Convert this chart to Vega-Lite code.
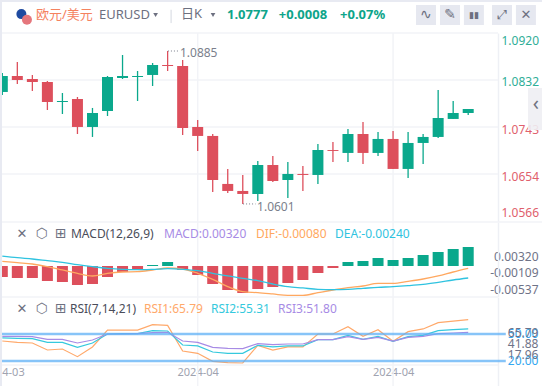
{"$schema":"https://vega.github.io/schema/vega-lite/v6.json","padding":{"left":0,"top":2,"right":0,"bottom":0},"background":"#e8eaf2","spacing":0,"bounds":"flush",
"config":{"view":{"stroke":null,"fill":"#ffffff"},"scale":{"continuousPadding":0},"font":"Noto Sans, Noto Sans CJK SC","concat":{"spacing":0},"text":{"font":"Noto Sans, Noto Sans CJK SC","fontSize":12,"align":"left","baseline":"middle"},"axis":{"ticks":false,"grid":false,"title":null,"domainColor":"#eef0f5","domainWidth":1.5,"labelFontSize":12,"labelFont":"Noto Sans","labelColor":"#6f7387","labelOverlap":false,"labelBound":false,"labelFlush":false}},
"datasets":{"bars":[
{"i":0,"o":1.08083,"c":1.08386,"h":1.08443,"l":1.08026,"macd":-0.00185,"dif":0.00079,"dea":0.00168,"rsi1":42.2,"rsi2":45.6,"rsi3":47.4},
{"i":1,"o":1.08386,"c":1.0831,"h":1.08651,"l":1.08234,"macd":-0.00202,"dif":0.00056,"dea":0.0014,"rsi1":40.7,"rsi2":45.2,"rsi3":47.4},
{"i":2,"o":1.08329,"c":1.08272,"h":1.08405,"l":1.08102,"macd":-0.00202,"dif":0.00034,"dea":0.00118,"rsi1":40.0,"rsi2":44.8,"rsi3":47.0},
{"i":3,"o":1.08272,"c":1.07893,"h":1.08291,"l":1.07742,"macd":-0.00253,"dif":-0.00011,"dea":0.0009,"rsi1":32.2,"rsi2":40.7,"rsi3":44.1},
{"i":4,"o":1.07893,"c":1.07912,"h":1.08064,"l":1.07666,"macd":-0.00269,"dif":-0.00067,"dea":0.00062,"rsi1":33.3,"rsi2":40.7,"rsi3":44.1},
{"i":5,"o":1.0795,"c":1.0742,"h":1.07988,"l":1.07287,"macd":-0.0032,"dif":-0.00123,"dea":0.00022,"rsi1":24.8,"rsi2":35.2,"rsi3":40.0},
{"i":6,"o":1.0742,"c":1.07685,"h":1.0778,"l":1.07231,"macd":-0.00303,"dif":-0.00168,"dea":-0.00011,"rsi1":35.6,"rsi2":40.0,"rsi3":43.3},
{"i":7,"o":1.07723,"c":1.08367,"h":1.08386,"l":1.07628,"macd":-0.00185,"dif":-0.00123,"dea":-0.00039,"rsi1":54.4,"rsi2":50.0,"rsi3":50.0},
{"i":8,"o":1.08348,"c":1.08386,"h":1.08783,"l":1.08329,"macd":-0.00101,"dif":-0.00101,"dea":-0.00056,"rsi1":54.4,"rsi2":50.4,"rsi3":50.0},
{"i":9,"o":1.08367,"c":1.08386,"h":1.0848,"l":1.07912,"macd":-0.00067,"dif":-0.00095,"dea":-0.00062,"rsi1":54.4,"rsi2":50.4,"rsi3":50.4},
{"i":10,"o":1.08405,"c":1.08594,"h":1.08632,"l":1.08196,"macd":0.00017,"dif":-0.00067,"dea":-0.00056,"rsi1":60.4,"rsi2":53.7,"rsi3":51.5},
{"i":11,"o":1.08594,"c":1.08575,"h":1.08859,"l":1.0848,"macd":0.00067,"dif":-0.00034,"dea":-0.00045,"rsi1":59.6,"rsi2":53.3,"rsi3":51.9},
{"i":12,"o":1.08575,"c":1.07401,"h":1.08689,"l":1.07269,"macd":-0.00067,"dif":-0.00051,"dea":-0.00056,"rsi1":31.1,"rsi2":37.8,"rsi3":42.2},
{"i":13,"o":1.0742,"c":1.0725,"h":1.07553,"l":1.06966,"macd":-0.00152,"dif":-0.00123,"dea":-0.00079,"rsi1":28.5,"rsi2":36.7,"rsi3":40.7},
{"i":14,"o":1.0725,"c":1.06416,"h":1.07287,"l":1.06189,"macd":-0.00303,"dif":-0.00225,"dea":-0.00123,"rsi1":19.6,"rsi2":30.0,"rsi3":35.2},
{"i":15,"o":1.06341,"c":1.06208,"h":1.06625,"l":1.0617,"macd":-0.00404,"dif":-0.00348,"dea":-0.00168,"rsi1":18.1,"rsi2":28.5,"rsi3":34.1},
{"i":16,"o":1.06208,"c":1.06151,"h":1.06511,"l":1.05962,"macd":-0.00455,"dif":-0.00432,"dea":-0.00208,"rsi1":17.8,"rsi2":28.5,"rsi3":33.7},
{"i":17,"o":1.06151,"c":1.067,"h":1.06776,"l":1.06019,"macd":-0.00387,"dif":-0.00449,"dea":-0.00247,"rsi1":37.4,"rsi2":37.4,"rsi3":39.3},
{"i":18,"o":1.067,"c":1.06397,"h":1.06871,"l":1.06379,"macd":-0.00354,"dif":-0.00471,"dea":-0.00303,"rsi1":32.2,"rsi2":35.6,"rsi3":38.1},
{"i":19,"o":1.06416,"c":1.0653,"h":1.06757,"l":1.06076,"macd":-0.00286,"dif":-0.00494,"dea":-0.00348,"rsi1":35.6,"rsi2":36.7,"rsi3":38.9},
{"i":20,"o":1.0653,"c":1.06511,"h":1.06682,"l":1.06208,"macd":-0.00236,"dif":-0.00494,"dea":-0.0037,"rsi1":35.6,"rsi2":36.7,"rsi3":38.9},
{"i":21,"o":1.06511,"c":1.06984,"h":1.07098,"l":1.06341,"macd":-0.00118,"dif":-0.00449,"dea":-0.00393,"rsi1":50.0,"rsi2":43.7,"rsi3":43.7},
{"i":22,"o":1.06984,"c":1.06966,"h":1.07136,"l":1.06757,"macd":-0.00034,"dif":-0.00404,"dea":-0.00399,"rsi1":50.0,"rsi2":43.7,"rsi3":43.7},
{"i":23,"o":1.06928,"c":1.07287,"h":1.07382,"l":1.06757,"macd":0.00067,"dif":-0.00365,"dea":-0.00393,"rsi1":58.1,"rsi2":48.5,"rsi3":47.0},
{"i":24,"o":1.07287,"c":1.06928,"h":1.07515,"l":1.06719,"macd":0.00084,"dif":-0.00337,"dea":-0.00376,"rsi1":47.4,"rsi2":44.1,"rsi3":44.1},
{"i":25,"o":1.06928,"c":1.07193,"h":1.07325,"l":1.06871,"macd":0.00135,"dif":-0.00292,"dea":-0.00359,"rsi1":54.8,"rsi2":47.4,"rsi3":46.3},
{"i":26,"o":1.07193,"c":1.06625,"h":1.07344,"l":1.06625,"macd":0.00101,"dif":-0.00292,"dea":-0.00348,"rsi1":41.9,"rsi2":41.9,"rsi3":42.2},
{"i":27,"o":1.06625,"c":1.07117,"h":1.07325,"l":1.06454,"macd":0.00135,"dif":-0.00258,"dea":-0.00331,"rsi1":52.6,"rsi2":47.0,"rsi3":46.3},
{"i":28,"o":1.07117,"c":1.07231,"h":1.07287,"l":1.06719,"macd":0.00185,"dif":-0.00219,"dea":-0.00309,"rsi1":55.6,"rsi2":48.5,"rsi3":47.4},
{"i":29,"o":1.07231,"c":1.0759,"h":1.08121,"l":1.07212,"macd":0.00236,"dif":-0.00168,"dea":-0.00275,"rsi1":62.6,"rsi2":53.7,"rsi3":50.4},
{"i":30,"o":1.07572,"c":1.07685,"h":1.07912,"l":1.07572,"macd":0.00286,"dif":-0.00101,"dea":-0.00236,"rsi1":64.4,"rsi2":54.8,"rsi3":51.1},
{"i":31,"o":1.07685,"c":1.07761,"h":1.07761,"l":1.07647,"macd":0.0032,"dif":-0.00039,"dea":-0.00202,"rsi1":65.9,"rsi2":55.6,"rsi3":51.9}
],"months":[{"i":13},{"i":26}]},
"vconcat":[
{"width":540,"height":31,"layer":[
{"data":{"values":[{"label":"欧元/美元"}]},"mark":{"type":"text","color":"#f5825f","fontSize":13},"encoding":{"x":{"datum":2.24,"type":"quantitative","axis":null,"scale":{"domain":[-0.02,35.91],"nice":false,"zero":false}},"y":{"datum":0.58,"type":"quantitative","axis":null,"scale":{"domain":[0,1],"nice":false,"zero":false}},"text":{"field":"label"}}},
{"data":{"values":[{"label":"EURUSD"}]},"mark":{"type":"text","color":"#6d7080","fontSize":13},"encoding":{"x":{"datum":6.43,"type":"quantitative","axis":null},"y":{"datum":0.58,"type":"quantitative","axis":null},"text":{"field":"label"}}},
{"data":{"values":[{"label":"日K"}]},"mark":{"type":"text","color":"#6d7080","fontSize":13},"encoding":{"x":{"datum":11.89,"type":"quantitative","axis":null},"y":{"datum":0.6,"type":"quantitative","axis":null},"text":{"field":"label"}}},
{"data":{"values":[{"label":"1.0777"}]},"mark":{"type":"text","color":"#0ea58a","fontSize":13,"fontWeight":"bold"},"encoding":{"x":{"datum":14.95,"type":"quantitative","axis":null},"y":{"datum":0.58,"type":"quantitative","axis":null},"text":{"field":"label"}}},
{"data":{"values":[{"label":"+0.0008"}]},"mark":{"type":"text","color":"#0ea58a","fontSize":13,"fontWeight":"bold"},"encoding":{"x":{"datum":18.4,"type":"quantitative","axis":null},"y":{"datum":0.58,"type":"quantitative","axis":null},"text":{"field":"label"}}},
{"data":{"values":[{"label":"+0.07%"}]},"mark":{"type":"text","color":"#0ea58a","fontSize":13,"fontWeight":"bold"},"encoding":{"x":{"datum":22.47,"type":"quantitative","axis":null},"y":{"datum":0.58,"type":"quantitative","axis":null},"text":{"field":"label"}}},
{"mark":{"type":"point","filled":true,"opacity":1,"shape":"circle","size":100,"color":"#1f4aa0"},"data":{"values":[{"flag":"EU"}]},"encoding":{"x":{"datum":1.27,"type":"quantitative","axis":null},"y":{"datum":0.61,"type":"quantitative","axis":null}}},
{"mark":{"type":"point","filled":true,"opacity":1,"shape":"circle","size":100,"color":"#e5767c"},"data":{"values":[{"flag":"US"}]},"encoding":{"x":{"datum":1.64,"type":"quantitative","axis":null},"y":{"datum":0.43,"type":"quantitative","axis":null}}},
{"mark":{"type":"point","filled":true,"opacity":1,"shape":"triangle-down","size":22,"color":"#6d7080"},"data":{"values":[{"c":1}]},"encoding":{"x":{"datum":10.2,"type":"quantitative","axis":null},"y":{"datum":0.58,"type":"quantitative","axis":null}}},
{"mark":{"type":"point","filled":true,"opacity":1,"shape":"triangle-down","size":22,"color":"#6d7080"},"data":{"values":[{"c":2}]},"encoding":{"x":{"datum":14.02,"type":"quantitative","axis":null},"y":{"datum":0.58,"type":"quantitative","axis":null}}},
{"mark":{"type":"rule","color":"#d5d8e0","strokeWidth":1},"data":{"values":[{"c":3}]},"encoding":{"x":{"datum":11.23,"type":"quantitative","axis":null},"y":{"datum":0.75,"type":"quantitative","axis":null},"y2":{"datum":0.32}}},
{"mark":{"type":"point","filled":true,"opacity":1,"shape":"square","size":400,"color":"#e6e8f0"},"data":{"values":[{"c":4}]},"encoding":{"x":{"datum":28.19,"type":"quantitative","axis":null},"y":{"datum":0.58,"type":"quantitative","axis":null}}},
{"mark":{"type":"point","filled":true,"opacity":1,"shape":"square","size":400,"color":"#e6e8f0"},"data":{"values":[{"c":5}]},"encoding":{"x":{"datum":29.79,"type":"quantitative","axis":null},"y":{"datum":0.58,"type":"quantitative","axis":null}}},
{"mark":{"type":"point","filled":true,"opacity":1,"shape":"square","size":400,"color":"#e6e8f0"},"data":{"values":[{"c":6}]},"encoding":{"x":{"datum":31.38,"type":"quantitative","axis":null},"y":{"datum":0.58,"type":"quantitative","axis":null}}},
{"mark":{"type":"point","filled":true,"opacity":1,"shape":"square","size":400,"color":"#e6e8f0"},"data":{"values":[{"c":7}]},"encoding":{"x":{"datum":33.25,"type":"quantitative","axis":null},"y":{"datum":0.58,"type":"quantitative","axis":null}}},
{"mark":{"type":"point","filled":true,"opacity":1,"shape":"square","size":400,"color":"#e6e8f0"},"data":{"values":[{"c":8}]},"encoding":{"x":{"datum":34.84,"type":"quantitative","axis":null},"y":{"datum":0.58,"type":"quantitative","axis":null}}},
{"data":{"values":[{"label":"∿"}]},"mark":{"type":"text","align":"center","color":"#6d7080","fontSize":14,"font":"DejaVu Sans"},"encoding":{"x":{"datum":28.19,"type":"quantitative","axis":null},"y":{"datum":0.58,"type":"quantitative","axis":null},"text":{"field":"label"}}},
{"data":{"values":[{"label":"✎"}]},"mark":{"type":"text","align":"center","color":"#6d7080","fontSize":14,"font":"DejaVu Sans"},"encoding":{"x":{"datum":29.79,"type":"quantitative","axis":null},"y":{"datum":0.58,"type":"quantitative","axis":null},"text":{"field":"label"}}},
{"data":{"values":[{"label":"▮▮"}]},"mark":{"type":"text","align":"center","color":"#6d7080","fontSize":9,"font":"DejaVu Sans"},"encoding":{"x":{"datum":31.38,"type":"quantitative","axis":null},"y":{"datum":0.58,"type":"quantitative","axis":null},"text":{"field":"label"}}},
{"data":{"values":[{"label":"⤢"}]},"mark":{"type":"text","align":"center","color":"#6d7080","fontSize":13,"font":"DejaVu Sans"},"encoding":{"x":{"datum":33.25,"type":"quantitative","axis":null},"y":{"datum":0.58,"type":"quantitative","axis":null},"text":{"field":"label"}}},
{"data":{"values":[{"label":"✕"}]},"mark":{"type":"text","align":"center","color":"#6d7080","fontSize":13,"font":"DejaVu Sans"},"encoding":{"x":{"datum":34.84,"type":"quantitative","axis":null},"y":{"datum":0.58,"type":"quantitative","axis":null},"text":{"field":"label"}}}
]},
{"width":540,"height":189,"layer":[
{"data":{"values":[{"level":1.092},{"level":1.0831},{"level":1.0742},{"level":1.0653}]},"mark":{"type":"rule","color":"#f2f3f7","strokeWidth":1.5},"encoding":{"x":{"datum":-0.02,"type":"quantitative","axis":null,"scale":{"domain":[-0.02,35.91],"nice":false,"zero":false}},"x2":{"datum":32.98},"y":{"field":"level","type":"quantitative","scale":{"domain":[1.0562,1.092],"nice":false,"zero":false},"axis":{"orient":"right","offset":-44,"title":null,"tickCount":20,"labelOverlap":false,"labelPadding":3,"labelAlign":"left","values":[1.09067,1.08282,1.07369,1.06473,1.05792],"labelExpr":"datum.value>1.09?'1.0920':datum.value>1.08?'1.0832':datum.value>1.07?'1.0743':datum.value>1.06?'1.0654':'1.0566'","labelColor":{"condition":{"test":"datum.value>1.08","value":"#2fae97"},"value":"#e0606c"}}}}},
{"mark":{"type":"rule","color":"#f2f3f7","strokeWidth":1.5},"data":{"name":"months"},"encoding":{"x":{"field":"i","type":"quantitative","axis":null}}},
{"data":{"name":"bars"},"mark":{"type":"rule","strokeWidth":1.3,"clip":true},"encoding":{"x":{"field":"i","type":"quantitative","axis":null},"y":{"field":"l","type":"quantitative"},"y2":{"field":"h"},"color":{"condition":{"test":"datum.c>=datum.o","value":"#0aa88c"},"value":"#dd4f5c"}}},
{"data":{"name":"bars"},"mark":{"type":"bar","size":11,"clip":true},"encoding":{"x":{"field":"i","type":"quantitative","axis":null},"y":{"field":"o","type":"quantitative"},"y2":{"field":"c"},"color":{"condition":{"test":"datum.c>=datum.o","value":"#0aa88c"},"value":"#dd4f5c"}}},
{"data":{"values":[{"p":"high"}]},"mark":{"type":"rule","color":"#7b7f8c","strokeDash":[1,2]},"encoding":{"x":{"datum":11.02,"type":"quantitative","axis":null},"x2":{"datum":11.7},"y":{"datum":1.08859,"type":"quantitative"}}},
{"data":{"values":[{"label":"1.0885"}]},"mark":{"type":"text","color":"#7b7f8c"},"encoding":{"x":{"datum":11.82,"type":"quantitative","axis":null},"y":{"datum":1.08812,"type":"quantitative"},"text":{"field":"label"}}},
{"data":{"values":[{"p":"low"}]},"mark":{"type":"rule","color":"#7b7f8c","strokeDash":[1,2]},"encoding":{"x":{"datum":16.02,"type":"quantitative","axis":null},"x2":{"datum":16.85},"y":{"datum":1.05962,"type":"quantitative"}}},
{"data":{"values":[{"label":"1.0601"}]},"mark":{"type":"text","color":"#7b7f8c"},"encoding":{"x":{"datum":16.95,"type":"quantitative","axis":null},"y":{"datum":1.05905,"type":"quantitative"},"text":{"field":"label"}}},
{"data":{"values":[{"tab":1}]},"mark":{"type":"rect","color":"#eeeef3","opacity":0.9},"encoding":{"x":{"datum":34.98,"type":"quantitative","axis":null},"x2":{"datum":35.91},"y":{"datum":1.08159,"type":"quantitative"},"y2":{"datum":1.07363}}},
{"data":{"values":[{"label":"‹"}]},"mark":{"type":"text","align":"center","color":"#6f7280","fontSize":20},"encoding":{"x":{"datum":35.5,"type":"quantitative","axis":null},"y":{"datum":1.0785,"type":"quantitative"},"text":{"field":"label"}}}
]},
{"width":540,"height":75,"layer":[
{"data":{"values":[{"level":0.00741}]},"mark":{"type":"rule","color":"#f2f3f7","strokeWidth":1.5},"encoding":{"y":{"field":"level","type":"quantitative","scale":{"domain":[-0.00522,0.00741],"nice":false,"zero":false},"axis":{"orient":"right","offset":-44,"title":null,"tickCount":20,"labelOverlap":false,"labelPadding":40,"labelAlign":"right","values":[0.00168,-0.00109,-0.00396],"labelExpr":"datum.value>0?'0.00320':datum.value>-0.002?'-0.00109':'-0.00537'"}}}},
{"mark":{"type":"rule","color":"#f2f3f7","strokeWidth":1.5},"data":{"name":"months"},"encoding":{"x":{"field":"i","type":"quantitative","axis":null,"scale":{"domain":[-0.02,35.91],"nice":false,"zero":false}}}},
{"data":{"name":"bars"},"mark":{"type":"bar","size":11,"clip":true},"encoding":{"x":{"field":"i","type":"quantitative","axis":null},"y":{"field":"macd","type":"quantitative"},"y2":{"datum":0},"color":{"condition":{"test":"datum.macd>0","value":"#0aa88c"},"value":"#dd4f5c"}}},
{"data":{"name":"bars"},"mark":{"type":"line","color":"#ffa860","strokeWidth":1.3,"interpolate":"monotone","clip":true},"encoding":{"x":{"field":"i","type":"quantitative","axis":null},"y":{"field":"dif","type":"quantitative"}}},
{"data":{"name":"bars"},"mark":{"type":"line","color":"#2fc3e0","strokeWidth":1.3,"interpolate":"monotone","clip":true},"encoding":{"x":{"field":"i","type":"quantitative","axis":null},"y":{"field":"dea","type":"quantitative"}}},
{"data":{"values":[{"label":"✕"}]},"mark":{"type":"text","align":"center","color":"#6d7080","fontSize":13,"font":"DejaVu Sans"},"encoding":{"x":{"datum":1.31,"type":"quantitative","axis":null},"y":{"datum":0.00539,"type":"quantitative"},"text":{"field":"label"}}},
{"data":{"values":[{"label":"⬡"}]},"mark":{"type":"text","align":"center","color":"#6d7080","fontSize":14,"font":"DejaVu Sans"},"encoding":{"x":{"datum":2.64,"type":"quantitative","axis":null},"y":{"datum":0.00539,"type":"quantitative"},"text":{"field":"label"}}},
{"data":{"values":[{"label":"⊞"}]},"mark":{"type":"text","align":"center","color":"#6d7080","fontSize":14,"font":"DejaVu Sans"},"encoding":{"x":{"datum":3.9,"type":"quantitative","axis":null},"y":{"datum":0.00539,"type":"quantitative"},"text":{"field":"label"}}},
{"data":{"values":[{"label":"MACD(12,26,9)"}]},"mark":{"type":"text","color":"#4a4d5a"},"encoding":{"x":{"datum":4.57,"type":"quantitative","axis":null},"y":{"datum":0.00539,"type":"quantitative"},"text":{"field":"label"}}},
{"data":{"values":[{"label":"MACD:0.00320"}]},"mark":{"type":"text","color":"#a78be5"},"encoding":{"x":{"datum":10.76,"type":"quantitative","axis":null},"y":{"datum":0.00539,"type":"quantitative"},"text":{"field":"label"}}},
{"data":{"values":[{"label":"DIF:-0.00080"}]},"mark":{"type":"text","color":"#ffa860"},"encoding":{"x":{"datum":16.88,"type":"quantitative","axis":null},"y":{"datum":0.00539,"type":"quantitative"},"text":{"field":"label"}}},
{"data":{"values":[{"label":"DEA:-0.00240"}]},"mark":{"type":"text","color":"#2fc3e0"},"encoding":{"x":{"datum":22.14,"type":"quantitative","axis":null},"y":{"datum":0.00539,"type":"quantitative"},"text":{"field":"label"}}}
]},
{"width":540,"height":89,"layer":[
{"data":{"values":[{"level":91.1},{"level":15.55}]},"mark":{"type":"rule","color":"#f2f3f7","strokeWidth":1.5},"encoding":{"x":{"datum":-0.02,"type":"quantitative","scale":{"domain":[-0.02,35.91],"nice":false,"zero":false},"axis":{"orient":"bottom","offset":-21,"title":null,"tickCount":20,"labelPadding":1,"labelFontSize":11,"domain":false,"values":[0.71,13,26],"labelExpr":"datum.value<3?'4-03':'2024-04'","labelColor":"#a0a3b0"}},"x2":{"datum":32.98},"y":{"field":"level","type":"quantitative","scale":{"domain":[-7.78,91.1],"nice":false,"zero":false},"axis":{"orient":"right","offset":-44,"title":null,"tickCount":20,"labelOverlap":false,"labelPadding":40,"labelAlign":"right","values":[52.2,50,38.9,26.7,20],"labelExpr":"datum.value==52.2?'65.79':datum.value==50?'50.00':datum.value==38.9?'41.88':datum.value==26.7?'17.96':'20.00'","labelColor":{"condition":{"test":"datum.value==50||datum.value==20","value":"#35a7f0"},"value":"#6f7387"}}}}},
{"mark":{"type":"rule","color":"#f2f3f7","strokeWidth":1.5},"data":{"name":"months"},"encoding":{"x":{"field":"i","type":"quantitative"}}},
{"data":{"name":"bars"},"mark":{"type":"line","color":"#ffa96b","strokeWidth":1.2,"clip":true},"encoding":{"x":{"field":"i","type":"quantitative"},"y":{"field":"rsi1","type":"quantitative"}}},
{"data":{"name":"bars"},"mark":{"type":"line","color":"#35c9dd","strokeWidth":1.2,"clip":true},"encoding":{"x":{"field":"i","type":"quantitative"},"y":{"field":"rsi2","type":"quantitative"}}},
{"data":{"name":"bars"},"mark":{"type":"line","color":"#a78be5","strokeWidth":1.2,"clip":true},"encoding":{"x":{"field":"i","type":"quantitative"},"y":{"field":"rsi3","type":"quantitative"}}},
{"data":{"values":[{"level":50},{"level":20}]},"mark":{"type":"rule","color":"#5fb0f5","strokeWidth":2.5,"opacity":0.75},"encoding":{"x":{"datum":-0.02,"type":"quantitative"},"x2":{"datum":33.5},"y":{"field":"level","type":"quantitative"}}},
{"data":{"values":[{"label":"✕"}]},"mark":{"type":"text","align":"center","color":"#6d7080","fontSize":13,"font":"DejaVu Sans"},"encoding":{"x":{"datum":1.31,"type":"quantitative"},"y":{"datum":77.8,"type":"quantitative"},"text":{"field":"label"}}},
{"data":{"values":[{"label":"⬡"}]},"mark":{"type":"text","align":"center","color":"#6d7080","fontSize":14,"font":"DejaVu Sans"},"encoding":{"x":{"datum":2.64,"type":"quantitative"},"y":{"datum":77.8,"type":"quantitative"},"text":{"field":"label"}}},
{"data":{"values":[{"label":"⊞"}]},"mark":{"type":"text","align":"center","color":"#6d7080","fontSize":14,"font":"DejaVu Sans"},"encoding":{"x":{"datum":3.9,"type":"quantitative"},"y":{"datum":77.8,"type":"quantitative"},"text":{"field":"label"}}},
{"data":{"values":[{"label":"RSI(7,14,21)"}]},"mark":{"type":"text","color":"#4a4d5a"},"encoding":{"x":{"datum":4.5,"type":"quantitative"},"y":{"datum":77.8,"type":"quantitative"},"text":{"field":"label"}}},
{"data":{"values":[{"label":"RSI1:65.79"}]},"mark":{"type":"text","color":"#ffa96b"},"encoding":{"x":{"datum":9.43,"type":"quantitative"},"y":{"datum":77.8,"type":"quantitative"},"text":{"field":"label"}}},
{"data":{"values":[{"label":"RSI2:55.31"}]},"mark":{"type":"text","color":"#35c9dd"},"encoding":{"x":{"datum":13.89,"type":"quantitative"},"y":{"datum":77.8,"type":"quantitative"},"text":{"field":"label"}}},
{"data":{"values":[{"label":"RSI3:51.80"}]},"mark":{"type":"text","color":"#a78be5"},"encoding":{"x":{"datum":18.34,"type":"quantitative"},"y":{"datum":77.8,"type":"quantitative"},"text":{"field":"label"}}}
]}
]}
